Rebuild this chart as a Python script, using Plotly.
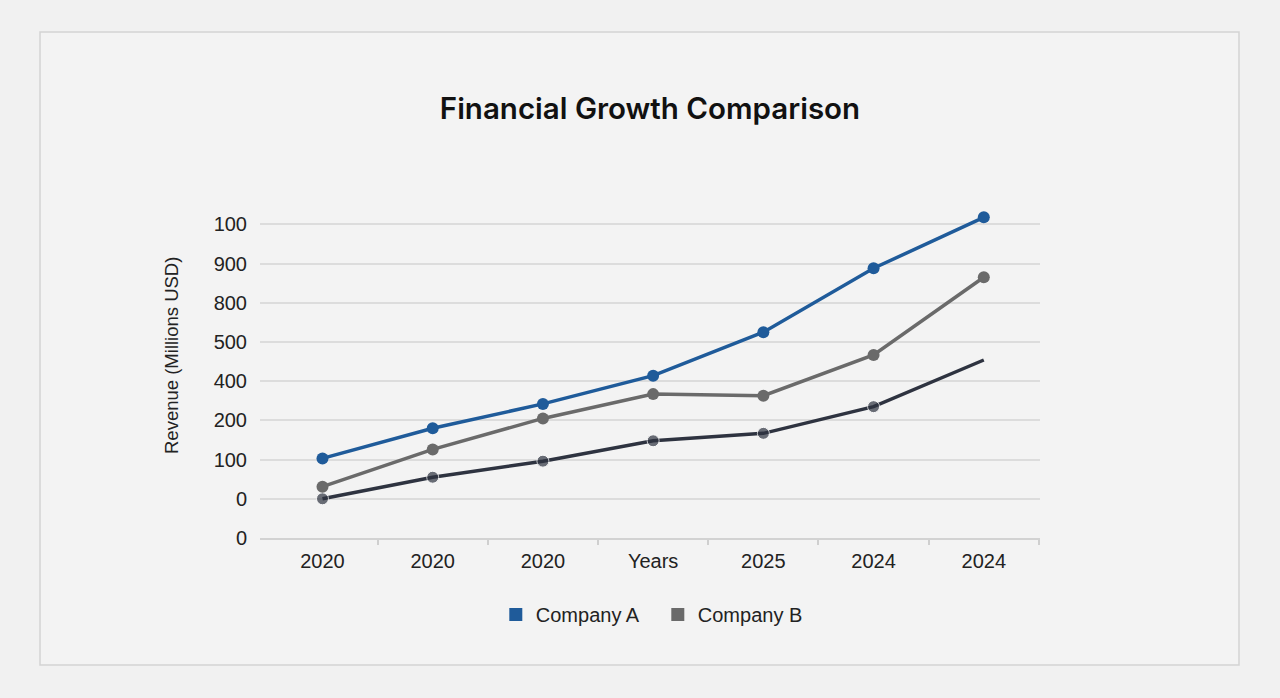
import plotly.graph_objects as go

# ---- data ----
x_labels = ["2020", "2020", "2020", "Years", "2025", "2024", "2024"]
y_tick_labels = ["0", "0", "100", "200", "400", "500", "800", "900", "100"]
y_tick_positions = [0, 100, 200, 300, 400, 500, 600, 700, 800]

company_a = [203, 280, 342, 414, 525, 688, 818]
company_b = [131, 226, 305, 367, 363, 467, 665]
company_c = [100, 155, 196, 248, 267, 335, 454]

blue = "#1f5b9a"
gray = "#6a6a6a"
dark = "#2e3340"

xs = list(range(len(x_labels)))

fig = go.Figure()

fig.add_trace(go.Scatter(x=xs, y=company_c, mode="lines+markers",
                         line=dict(color=dark, width=3.5),
                         marker=dict(color=dark, size=[12, 12, 12, 12, 12, 12, 0]),
                         showlegend=False, hoverinfo="skip", cliponaxis=False))
fig.add_trace(go.Scatter(x=xs, y=company_b, mode="lines+markers",
                         line=dict(color=gray, width=3.5),
                         marker=dict(color=gray, size=12),
                         showlegend=False, cliponaxis=False))
fig.add_trace(go.Scatter(x=xs, y=company_a, mode="lines+markers",
                         line=dict(color=blue, width=3.5),
                         marker=dict(color=blue, size=12),
                         showlegend=False, cliponaxis=False))

# legend entries (square swatches)
fig.add_trace(go.Scatter(x=[None], y=[None], mode="markers", name="Company A",
                         marker=dict(symbol="square", color=blue, size=13)))
fig.add_trace(go.Scatter(x=[None], y=[None], mode="markers", name="Company B",
                         marker=dict(symbol="square", color=gray, size=13)))

fig.update_layout(
    width=1280, height=698,
    margin=dict(l=260, r=240, t=213, b=160),
    paper_bgcolor="#f1f1f1",
    plot_bgcolor="rgba(0,0,0,0)",
    font=dict(family="Liberation Sans, Arial, sans-serif", color="#222222", size=20),
    title=dict(text="Financial Growth Comparison", x=0.5078, xanchor="center",
               y=1 - 109 / 698, yanchor="middle", yref="container",
               font=dict(family="Inter, Noto Sans, sans-serif", size=29.5,
                         color="#111111", weight=600)),
    legend=dict(orientation="h", x=0.51, xanchor="center", y=-0.235, yanchor="middle",
                font=dict(size=20, color="#222222"), bgcolor="rgba(0,0,0,0)",
                itemwidth=30, entrywidth=117),
    showlegend=True,
)

fig.update_xaxes(
    range=[-0.567, 6.51],
    tickvals=xs, ticktext=x_labels, ticks="",
    showgrid=False, zeroline=False,
    showline=True, linecolor="#d2d2d2", linewidth=1.5,
    tickfont=dict(size=20, color="#222222"),
    ticklabelstandoff=4,
    minor=dict(tickvals=[i + 0.5 for i in xs], ticks="outside", ticklen=5,
               tickcolor="#cfcfcf", tickwidth=1.5, showgrid=False),
)

fig.update_yaxes(
    range=[0, 829],
    tickvals=y_tick_positions, ticktext=y_tick_labels,
    showgrid=True, gridcolor="#dcdcdc", gridwidth=1.5,
    zeroline=False, showline=False, ticks="",
    ticklabelstandoff=12,
    tickfont=dict(size=20, color="#222222"),
)

# y-axis title
fig.add_annotation(text="Revenue (Millions USD)", xref="paper", yref="paper",
                   x=(171 - 260) / 780, y=(538 - 356) / 325, textangle=-90,
                   showarrow=False, xanchor="center", yanchor="middle",
                   font=dict(size=18.5, color="#222222"))

# outer card border
fig.add_shape(type="rect", xref="paper", yref="paper",
              x0=(40 - 260) / 780, x1=(1239 - 260) / 780,
              y0=(538 - 665) / 325, y1=(538 - 32) / 325,
              line=dict(color="#d3d3d3", width=1.5), fillcolor="#f3f3f3",
              layer="below")

fig.write_html("out.html",
               config={"displayModeBar": False},
               post_script="document.body.style.margin='0';"
                           "document.body.style.background='#f1f1f1';")
